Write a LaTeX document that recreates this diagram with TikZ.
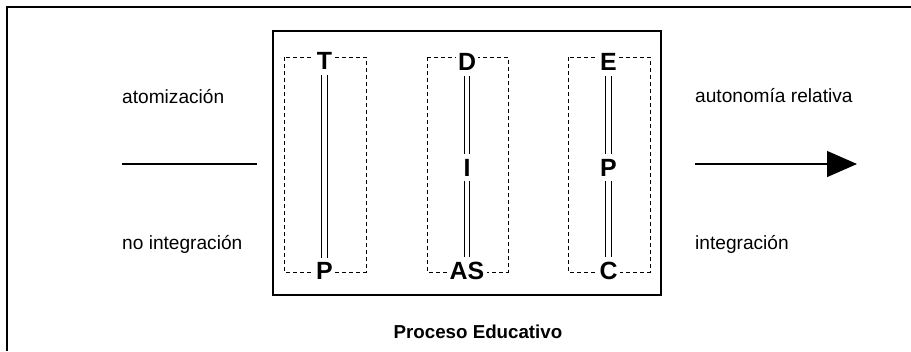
\documentclass[tikz,border=0pt]{standalone}
\usepackage{fontspec}
\setmainfont{Liberation Sans}
\usetikzlibrary{arrows.meta}
\begin{document}
\begin{tikzpicture}[x=1bp,y=-1bp,
  lbl/.style={anchor=base west,inner sep=0pt,font=\fontsize{19.2}{22}\selectfont},
  letter/.style={inner sep=2.5bp,fill=white,font=\fontsize{25}{28}\bfseries\selectfont},
  dbl/.style={draw=black,line width=1.1bp,double=white,double distance=4.2bp},
  dashbox/.style={draw,line width=0.9bp,dash pattern=on 4bp off 3bp},
  frame/.style={line width=1.6bp},
  mainbox/.style={draw,line width=2bp}]
\useasboundingbox (0,0) rectangle (911,351);
% outer frame (top and left edges)
\coordinate (f1) at (7,351);
\coordinate (f2) at (7,7);
\coordinate (f3) at (911,7);
\draw[frame] (f1) -- (f2) -- (f3);
% main box
\draw[mainbox] (273,31) rectangle (661,295);
% dashed boxes
\draw[dashbox] (284,57) rectangle (366,272);
\draw[dashbox] (427,57) rectangle (508,272);
\draw[dashbox] (568,57) rectangle (650,272);
% letters
\node[letter] (T)  at (324.5,61) {T};
\node[letter] (P1) at (324.5,271) {P};
\node[letter] (D)  at (467,62) {D};
\node[letter] (I)  at (467,168) {I};
\node[letter] (AS) at (467,271) {AS};
\node[letter] (E)  at (608.5,62) {E};
\node[letter] (P2) at (608.5,168) {P};
\node[letter] (C)  at (608.5,271) {C};
% double lines
\draw[dbl,shorten <=3bp,shorten >=2bp] (T.south) -- (P1.north);
\draw[dbl,shorten <=3bp,shorten >=3bp] (D.south) -- (I.north);
\draw[dbl,shorten <=2bp,shorten >=2bp] (I.south) -- (AS.north);
\draw[dbl,shorten <=3bp,shorten >=3bp] (E.south) -- (P2.north);
\draw[dbl,shorten <=2bp,shorten >=2bp] (P2.south) -- (C.north);
% left labels and line
\node[lbl] (atom) at (122,103) {atomización};
\node[lbl] (noint) at (122,249) {no integración};
\coordinate (l1) at (122,164);
\coordinate (l2) at (257,164);
\draw[line width=1.2bp] (l1) -- (l2);
% right labels and arrow
\node[lbl] (auto) at (695,102) {autonomía relativa};
\node[lbl] (integ) at (695,249) {integración};
\coordinate (a1) at (695,164);
\coordinate (a2) at (857,164);
\draw[line width=1.2bp,-{Triangle[length=30bp,width=26bp]}] (a1) -- (a2);
% caption
\node[anchor=base,inner sep=0pt,font=\fontsize{18.8}{22}\bfseries\selectfont] (cap) at (478,338) {Proceso Educativo};
\end{tikzpicture}
\end{document}
